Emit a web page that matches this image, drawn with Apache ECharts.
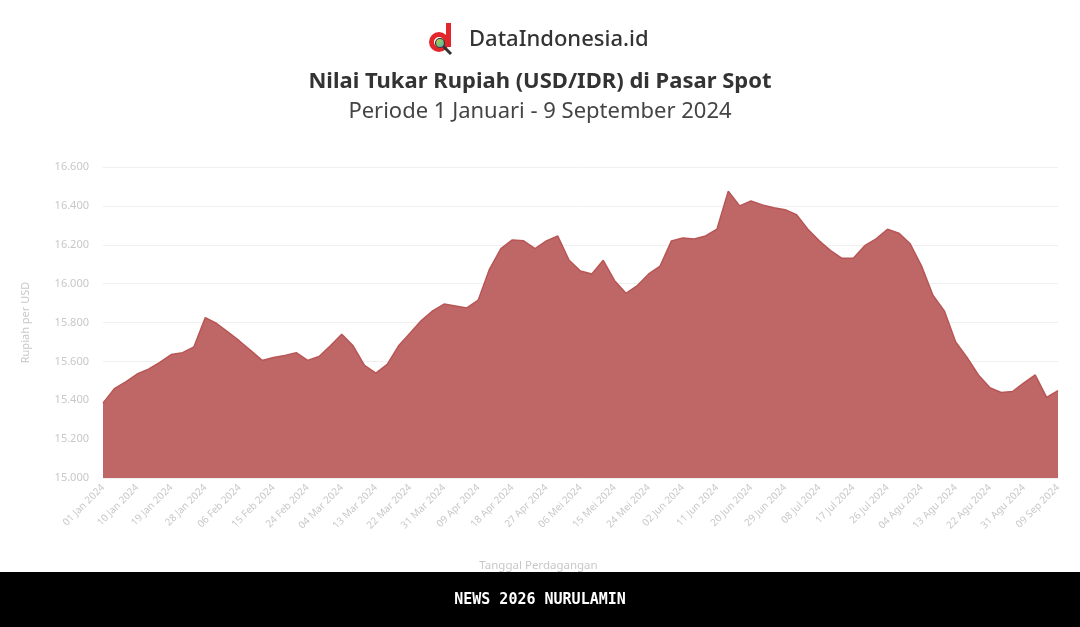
<!DOCTYPE html>
<html>
<head>
<meta charset="utf-8">
<script src="https://cdn.jsdelivr.net/npm/echarts@6/dist/echarts.min.js"></script>
<style>
  html, body { margin: 0; padding: 0; background: #fff; }
  #chart { width: 1080px; height: 627px; }
</style>
</head>
<body>
<div id="chart"></div>
<script>
// tanggal (setiap 3 hari)
const dates = [
  '01 Jan 2024', '04 Jan 2024', '07 Jan 2024', '10 Jan 2024', '13 Jan 2024', '16 Jan 2024', '19 Jan 2024', '22 Jan 2024', '25 Jan 2024', '28 Jan 2024', '31 Jan 2024',
  '03 Feb 2024', '06 Feb 2024', '09 Feb 2024', '12 Feb 2024', '15 Feb 2024', '18 Feb 2024', '21 Feb 2024', '24 Feb 2024', '27 Feb 2024',
  '01 Mar 2024', '04 Mar 2024', '07 Mar 2024', '10 Mar 2024', '13 Mar 2024', '16 Mar 2024', '19 Mar 2024', '22 Mar 2024', '25 Mar 2024', '28 Mar 2024', '31 Mar 2024',
  '03 Apr 2024', '06 Apr 2024', '09 Apr 2024', '12 Apr 2024', '15 Apr 2024', '18 Apr 2024', '21 Apr 2024', '24 Apr 2024', '27 Apr 2024', '30 Apr 2024',
  '03 Mei 2024', '06 Mei 2024', '09 Mei 2024', '12 Mei 2024', '15 Mei 2024', '18 Mei 2024', '21 Mei 2024', '24 Mei 2024', '27 Mei 2024', '30 Mei 2024',
  '02 Jun 2024', '05 Jun 2024', '08 Jun 2024', '11 Jun 2024', '14 Jun 2024', '17 Jun 2024', '20 Jun 2024', '23 Jun 2024', '26 Jun 2024', '29 Jun 2024',
  '02 Jul 2024', '05 Jul 2024', '08 Jul 2024', '11 Jul 2024', '14 Jul 2024', '17 Jul 2024', '20 Jul 2024', '23 Jul 2024', '26 Jul 2024', '29 Jul 2024',
  '01 Agu 2024', '04 Agu 2024', '07 Agu 2024', '10 Agu 2024', '13 Agu 2024', '16 Agu 2024', '19 Agu 2024', '22 Agu 2024', '25 Agu 2024', '28 Agu 2024', '31 Agu 2024',
  '03 Sep 2024', '06 Sep 2024', '09 Sep 2024'
]

// kurs rupiah per USD
const kurs = [
  15385, 15460, 15495, 15535, 15560, 15595, 15635, 15645, 15675, 15825, 15795,
  15750, 15705, 15655, 15605, 15620, 15630, 15645, 15605, 15625,
  15680, 15740, 15680, 15580, 15540, 15585, 15680, 15745, 15810, 15860, 15895,
  15885, 15875, 15915, 16075, 16180, 16225, 16220, 16180, 16220, 16245,
  16120, 16065, 16050, 16120, 16015, 15950, 15990, 16050, 16090, 16220,
  16235, 16230, 16245, 16280, 16475, 16400, 16425, 16405, 16390, 16380,
  16355, 16280, 16220, 16170, 16130, 16130, 16195, 16230, 16280, 16260,
  16205, 16090, 15940, 15860, 15700, 15620, 15530, 15465, 15440, 15445, 15490,
  15530, 15415, 15450
]

const yMin = 15000
const yMax = 16600
const yStep = 200

const chart = echarts.init(document.getElementById('chart'))

chart.setOption({
  backgroundColor: '#fff',
  animation: false,
  title: [{
    text: 'DataIndonesia.id',
    left: 464,
    top: 24,
    textStyle: { fontFamily: 'Noto Sans', fontSize: 22, fontWeight: 500, color: '#333' }
  }, {
    text: 'Nilai Tukar Rupiah (USD/IDR) di Pasar Spot',
    subtext: 'Periode 1 Januari - 9 September 2024',
    left: 'center',
    top: 66,
    itemGap: 8,
    textStyle: { fontFamily: 'Noto Sans', fontSize: 22, fontWeight: 'bold', color: '#333' },
    subtextStyle: { fontFamily: 'Noto Sans', fontSize: 22, color: '#444' }
  }],
  grid: {
    left: 103,
    right: 22,
    top: 167,
    bottom: 149
  },
  xAxis: {
    type: 'category',
    data: dates,
    boundaryGap: false,
    name: 'Tanggal Perdagangan',
    nameLocation: 'middle',
    nameGap: 82,
    nameTextStyle: { color: '#c8c8c8', fontSize: 11.5, fontFamily: 'Noto Sans', padding: [0, 84, 0, 0] },
    axisLine: { show: false },
    axisTick: { show: false },
    axisLabel: {
      interval: 2,
      rotate: 45,
      color: '#c8c8c8',
      fontSize: 10,
      fontFamily: 'Noto Sans',
      margin: 8
    },
    splitLine: { show: false }
  },
  yAxis: {
    type: 'value',
    min: yMin,
    max: yMax,
    interval: yStep,
    name: 'Rupiah per USD',
    nameLocation: 'middle',
    nameRotate: 90,
    nameGap: 72,
    nameTextStyle: { color: '#c8c8c8', fontSize: 11, fontFamily: 'Noto Sans' },
    axisLine: { show: false },
    axisTick: { show: false },
    axisLabel: {
      color: '#c8c8c8',
      fontSize: 11,
      fontFamily: 'Noto Sans',
      margin: 14,
      formatter: v => v.toLocaleString('id-ID')
    },
    splitLine: { lineStyle: { color: '#f0f0f0', width: 1 } }
  },
  series: [{
    name: 'USD/IDR',
    type: 'line',
    data: kurs,
    symbol: 'none',
    smooth: false,
    lineStyle: { color: '#b85656', width: 1.5 },
    areaStyle: { color: '#bf6666', opacity: 1 },
    itemStyle: { color: '#bf6666' }
  }],
  graphic: [
    // logo
    { type: 'rect', shape: { x: 446, y: 23, width: 5, height: 24 }, style: { fill: '#e3262b' } },
    { type: 'circle', shape: { cx: 439, cy: 42, r: 7.5 }, style: { fill: 'none', stroke: '#e3262b', lineWidth: 5 } },
    {
      type: 'circle',
      shape: { cx: 440, cy: 43, r: 4.5 },
      style: {
        fill: new echarts.graphic.LinearGradient(0, 0, 1, 1, [
          { offset: 0, color: '#f2c230' }, { offset: 0.5, color: '#7cc576' }, { offset: 1, color: '#4aa3df' }
        ]),
        stroke: '#333',
        lineWidth: 1.2
      }
    },
    { type: 'line', shape: { x1: 443.5, y1: 46.5, x2: 451, y2: 54 }, style: { stroke: '#333', lineWidth: 3 } },
    // footer
    { type: 'rect', shape: { x: 0, y: 572, width: 1080, height: 55 }, style: { fill: '#000' }, z: 100 },
    {
      type: 'text',
      x: 540,
      y: 600,
      z: 101,
      style: {
        text: 'NEWS 2026 NURULAMIN',
        fill: '#fff',
        font: 'bold 15px "DejaVu Sans Mono"',
        textAlign: 'center',
        textVerticalAlign: 'middle'
      }
    }
  ]
})
</script>
</body>
</html>
